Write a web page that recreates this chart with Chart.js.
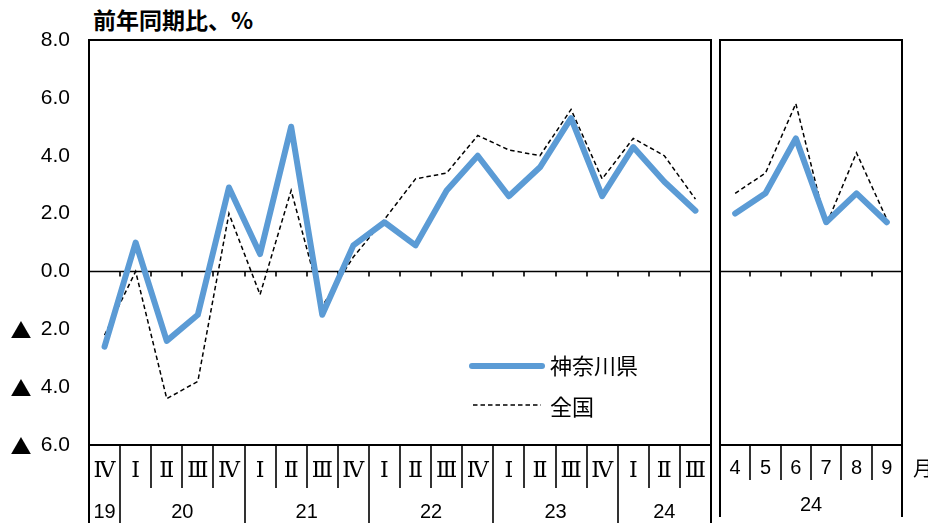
<!DOCTYPE html>
<html>
<head>
<meta charset="utf-8">
<script src="https://cdn.jsdelivr.net/npm/chart.js@4.4.1/dist/chart.umd.min.js"></script>
<style>
  body { margin: 0; background: #fff; width: 928px; height: 523px; overflow: hidden; position: relative; font-family: "Noto Sans CJK JP", sans-serif; }
  .box { position: absolute; top: 0; height: 523px; }
  #title { position: absolute; left: 93px; top: 2px; font-size: 23px; font-weight: bold; color: #000; }
</style>
</head>
<body>
<div id="title">前年同期比、%</div>
<div class="box" style="left:0;width:716px"><canvas id="qChart"></canvas></div>
<div class="box" style="left:716px;width:212px"><canvas id="mChart"></canvas></div>
<script>
// quarterly panel: 2019 IV .. 2024 III
const quarterLabels = ['Ⅳ','Ⅰ','Ⅱ','Ⅲ','Ⅳ','Ⅰ','Ⅱ','Ⅲ','Ⅳ','Ⅰ','Ⅱ','Ⅲ','Ⅳ','Ⅰ','Ⅱ','Ⅲ','Ⅳ','Ⅰ','Ⅱ','Ⅲ'];
const quarterYears  = ['19','20','20','20','20','21','21','21','21','22','22','22','22','23','23','23','23','24','24','24'];
const kanagawaQ = [-2.6, 1.0, -2.4, -1.5, 2.9, 0.6, 5.0, -1.5, 0.9, 1.7, 0.9, 2.8, 4.0, 2.6, 3.6, 5.3, 2.6, 4.3, 3.1, 2.1];
const nationalQ = [-2.2, 0.0, -4.4, -3.8, 2.0, -0.8, 2.8, -1.2, 0.5, 1.8, 3.2, 3.4, 4.7, 4.2, 4.0, 5.6, 3.2, 4.6, 4.0, 2.5];

// monthly panel: 2024 Apr .. Sep
const monthLabels = ['4','5','6','7','8','9'];
const monthYears  = ['24','24','24','24','24','24'];
const kanagawaM = [2.0, 2.7, 4.6, 1.7, 2.7, 1.7];
const nationalM = [2.7, 3.4, 5.8, 1.6, 4.1, 1.8];

const seriesNames = ['神奈川県', '全国'];
const yMin = -6, yMax = 8, yStep = 2;

const BLUE = '#5b9bd5';
const NUM_FONT = '"Liberation Sans", Arial, sans-serif';
const JP_FONT = '"Noto Sans CJK JP", sans-serif';

// border, zero line with small ticks, the label table under the plot, legend
const frame = {
  id: 'frame',
  beforeDatasetsDraw(chart, args, o) {
    const { ctx, chartArea: a, scales: { x, y } } = chart;
    const y0 = y.getPixelForValue(0);
    const w = x.getPixelForValue(1) - x.getPixelForValue(0);
    ctx.save();
    ctx.strokeStyle = '#000';
    ctx.lineWidth = 1.6;
    ctx.beginPath();
    ctx.moveTo(a.left, y0); ctx.lineTo(a.right, y0);
    for (let i = 1; i < o.cats.length; i++) {
      const px = Math.round(x.getPixelForValue(i) - w / 2);
      ctx.moveTo(px, y0); ctx.lineTo(px, y0 + 5);
    }
    ctx.stroke();
    ctx.restore();
  },
  afterDraw(chart, args, o) {
    const { ctx, chartArea: a, scales: { x, y } } = chart;
    const w = x.getPixelForValue(1) - x.getPixelForValue(0);
    const edge = i => x.getPixelForValue(i) - w / 2;
    ctx.save();
    ctx.strokeStyle = '#000';
    ctx.lineWidth = 2;
    ctx.strokeRect(a.left, a.top, a.right - a.left, a.bottom - a.top);
    ctx.beginPath();
    ctx.moveTo(a.left, a.bottom); ctx.lineTo(a.left, o.sideEnd);
    ctx.moveTo(a.right, a.bottom); ctx.lineTo(a.right, o.sideEnd);
    ctx.stroke();
    ctx.lineWidth = 1.6;
    ctx.beginPath();
    for (let i = 1; i < o.cats.length; i++) {
      const px = Math.round(edge(i));
      const groupBreak = o.groups[i] !== o.groups[i - 1];
      ctx.moveTo(px, a.bottom);
      ctx.lineTo(px, groupBreak ? o.sideEnd : o.row1End);
    }
    ctx.stroke();
    ctx.fillStyle = '#000';
    ctx.textAlign = 'center';
    ctx.textBaseline = 'middle';
    ctx.font = o.catFont;
    o.cats.forEach((c, i) => ctx.fillText(c, x.getPixelForValue(i), o.row1Y));
    ctx.font = o.groupFont;
    let start = 0;
    for (let i = 1; i <= o.groups.length; i++) {
      if (i === o.groups.length || o.groups[i] !== o.groups[start]) {
        ctx.fillText(o.groups[start], (edge(start) + edge(i)) / 2, o.row2Y);
        start = i;
      }
    }
    // negative tick marker
    if (o.negMark) {
      ctx.font = '21px ' + JP_FONT;
      y.ticks.forEach(t => { if (t.value < 0) ctx.fillText('▲', 21, y.getPixelForValue(t.value) + 1); });
    }
    if (o.unit) {
      ctx.font = '20px ' + JP_FONT;
      ctx.textAlign = 'left';
      ctx.fillText(o.unit, a.right + 11, o.row1Y);
    }
    if (o.legend) {
      const lg = o.legend;
      ctx.lineCap = 'round';
      ctx.strokeStyle = BLUE; ctx.lineWidth = 6;
      ctx.beginPath(); ctx.moveTo(lg.x, lg.y1); ctx.lineTo(lg.x + 70, lg.y1); ctx.stroke();
      ctx.lineCap = 'butt';
      ctx.strokeStyle = '#000'; ctx.lineWidth = 1.5; ctx.setLineDash([4.5, 3]);
      ctx.beginPath(); ctx.moveTo(lg.x + 1, lg.y2); ctx.lineTo(lg.x + 69, lg.y2); ctx.stroke();
      ctx.setLineDash([]);
      ctx.font = '22px ' + JP_FONT;
      ctx.textAlign = 'left';
      ctx.fillText(seriesNames[0], lg.x + 78, lg.y1);
      ctx.fillText(seriesNames[1], lg.x + 78, lg.y2 + 2);
    }
    ctx.restore();
  }
};

function makeDatasets(kana, nat) {
  return [
    { label: seriesNames[0], data: kana, borderColor: BLUE, borderWidth: 6, borderCapStyle: 'round',
      borderJoinStyle: 'round', pointRadius: 0, tension: 0, order: 1 },
    { label: seriesNames[1], data: nat, borderColor: '#000', borderWidth: 1.5, borderDash: [4.5, 3],
      pointRadius: 0, tension: 0, order: 2 }
  ];
}

function baseOptions(showY, padding, frameOpts) {
  const y = {
    min: yMin, max: yMax, display: showY,
    grid: { display: false, drawTicks: false },
    border: { display: false },
    ticks: { stepSize: yStep, padding: 19, color: '#000', font: { size: 21, family: NUM_FONT },
      callback: v => Math.abs(v).toFixed(1) }
  };
  if (showY) y.afterFit = s => { s.width = 89; };
  return {
    responsive: true,
    maintainAspectRatio: false,
    animation: false,
    layout: { padding },
    plugins: { legend: { display: false }, tooltip: { enabled: false }, frame: frameOpts },
    scales: { x: { type: 'category', offset: true, display: false }, y }
  };
}

new Chart(document.getElementById('qChart'), {
  type: 'line',
  data: { labels: quarterLabels, datasets: makeDatasets(kanagawaQ, nationalQ) },
  options: baseOptions(true, { top: 40, bottom: 78, left: 0, right: 5 }, {
    cats: quarterLabels, groups: quarterYears,
    row1End: 488, row1Y: 471, row2Y: 512, sideEnd: 523,
    catFont: '22px "DejaVu Serif", "Liberation Serif", serif',
    groupFont: '20px ' + NUM_FONT,
    negMark: true,
    legend: { x: 472, y1: 366, y2: 405 }
  }),
  plugins: [frame]
});

new Chart(document.getElementById('mChart'), {
  type: 'line',
  data: { labels: monthLabels, datasets: makeDatasets(kanagawaM, nationalM) },
  options: baseOptions(false, { top: 40, bottom: 78, left: 4, right: 26 }, {
    cats: monthLabels, groups: monthYears,
    row1End: 480, row1Y: 468, row2Y: 505, sideEnd: 517,
    catFont: '20px ' + NUM_FONT,
    groupFont: '20px ' + NUM_FONT,
    unit: '月'
  }),
  plugins: [frame]
});
</script>
</body>
</html>
